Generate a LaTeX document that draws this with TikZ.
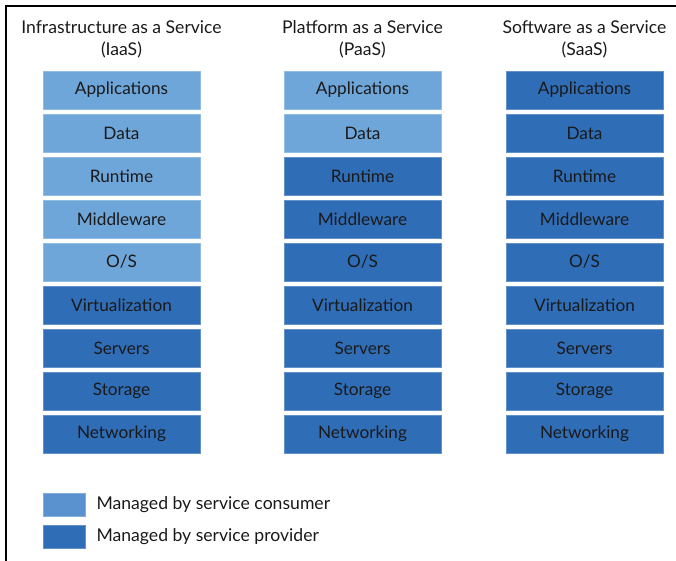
\documentclass[tikz,border=0pt]{standalone}
\usepackage{fontspec}
\setmainfont{Lato}
\definecolor{consumer}{HTML}{6FA6DA}
\definecolor{provider}{HTML}{2F6DB7}
\definecolor{keyconsumer}{HTML}{5A92D0}
\definecolor{ink}{HTML}{1A1A1A}
\tikzset{
  layer/.style={minimum width=157pt, minimum height=38pt, inner sep=0,
                line width=0.8pt, text=ink, font=\fontsize{17.2}{20}\selectfont},
  heading/.style={align=center, text=ink, font=\fontsize{17.6}{22}\selectfont},
  keybox/.style={minimum width=42pt, minimum height=23pt, inner sep=0,
                 line width=0.8pt},
  keytext/.style={anchor=west, text=ink, font=\fontsize{17.6}{20}\selectfont}
}
\begin{document}
\begin{tikzpicture}[x=1pt, y=-1pt]
        \useasboundingbox (0,0) rectangle (676,561);
        \def\pitch{43}  % row pitch
        \def\top{90}    % centre of first row

        % frame (top and left only)
        \draw[line width=2pt] (6,561) -- (6,6) -- (677,6);

        % columns: number of consumer-managed layers in each
        \foreach \col/\cx/\nc/\name/\abbr in {1/121.5/5/Infrastructure as a Service/IaaS,
                                               2/362.5/2/Platform as a Service/PaaS,
                                               3/584.5/0/Software as a Service/SaaS} {
          \node[heading] (T\col) at (\cx, 39) {\name\\(\abbr)};
          \foreach \row/\lbl in {1/Applications, 2/Data, 3/Runtime, 4/Middleware, 5/{O/S},
                                 6/Virtualization, 7/Servers, 8/Storage, 9/Networking} {
            \pgfmathsetmacro{\cy}{\top + (\row-1)*\pitch}
            \ifnum\row>\nc
              % managed by provider -- dark blue
              \node[layer, fill=provider, draw=provider!75!white] (L\col-\row) at (\cx, \cy) {\lbl};
            \else
              % managed by consumer -- light blue
              \node[layer, fill=consumer, draw=consumer!75!white] (L\col-\row) at (\cx, \cy) {\lbl};
            \fi
          }
        }

        % legend
        \node[keybox, fill=keyconsumer, draw=keyconsumer!75!white] (keyc) at (64, 505) {};
        \node[keybox, fill=provider, draw=provider!75!white] (keyp) at (64, 537) {};
        \node[keytext] (keyc-txt) at (93, 505) {Managed by service consumer};
        \node[keytext] (keyp-txt) at (93, 537) {Managed by service provider};
      \end{tikzpicture}
\end{document}
